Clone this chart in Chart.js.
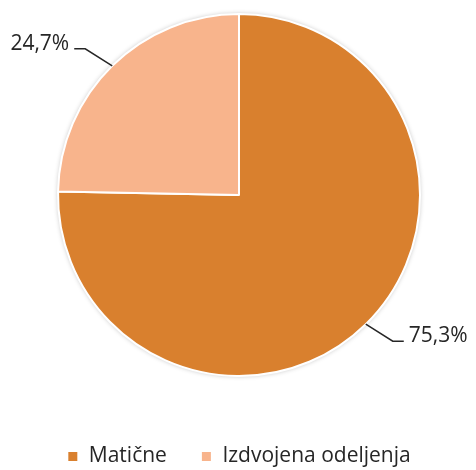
<!DOCTYPE html>
<html>
<head>
<meta charset="utf-8">
<script src="https://cdn.jsdelivr.net/npm/chart.js@4/dist/chart.umd.min.js"></script>
<style>
  html, body { margin: 0; padding: 0; background: #fff; }
  #wrap { width: 476px; height: 470px; }
</style>
</head>
<body>
<div id="wrap"><canvas id="Pita"></canvas></div>
<script>
const categories = ['Matične', 'Izdvojena odeljenja'];
const shares = [75.3, 24.7];
const sliceColors = ['#D9802E', '#F8B48C'];

// white disc with soft shadow under the slices
const pieShadow = {
    id: 'pieShadow',
    beforeDatasetsDraw(chart) {
        const arc = chart.getDatasetMeta(0).data[0];
        if (!arc) return;
        const ctx = chart.ctx;
        ctx.save();
        ctx.shadowColor = 'rgba(0,0,0,0.28)';
        ctx.shadowBlur = 5;
        ctx.fillStyle = '#fff';
        ctx.beginPath();
        ctx.arc(arc.x, arc.y, arc.outerRadius, 0, Math.PI * 2);
        ctx.fill();
        ctx.restore();
    }
};

// percentage labels with leader lines
const leaderLabels = {
    id: 'leaderLabels',
    afterDatasetsDraw(chart) {
        const ctx = chart.ctx;
        const data = chart.data.datasets[0].data;
        const total = data.reduce((a, b) => a + b, 0);
        chart.getDatasetMeta(0).data.forEach((arc, i) => {
            const mid = (arc.startAngle + arc.endAngle) / 2;
            const dx = Math.cos(mid), dy = Math.sin(mid);
            const sx = dx < 0 ? -1 : 1, sy = dy < 0 ? -1 : 1;
            const ex = arc.x + dx * arc.outerRadius;
            const ey = arc.y + dy * arc.outerRadius;
            const kx = ex + sx * 27, ky = ey + sy * 17;
            const lx = kx + sx * 11;
            ctx.save();
            ctx.strokeStyle = '#262626';
            ctx.lineWidth = 1.5;
            ctx.beginPath();
            ctx.moveTo(ex, ey);
            ctx.lineTo(kx, ky);
            ctx.lineTo(lx, ky);
            ctx.stroke();
            const txt = (data[i] / total * 100).toFixed(1).replace('.', ',') + '%';
            ctx.font = '21px "Open Sans"';
            ctx.fillStyle = '#262626';
            ctx.textAlign = sx < 0 ? 'right' : 'left';
            ctx.textBaseline = 'alphabetic';
            ctx.fillText(txt, lx + sx * 5, ky + 1);
            ctx.restore();
        });
    }
};

const ptx = document.getElementById('Pita').getContext('2d');
const Pita = new Chart(ptx, {
    type: 'pie',
    data: {
        labels: categories,
        datasets: [{
            data: shares,
            backgroundColor: sliceColors,
            borderColor: '#ffffff',
            borderWidth: 2
        }]
    },
    options: {
        responsive: true,
        maintainAspectRatio: false,
        animation: false,
        layout: {
            padding: { top: 13, left: 2, right: 0, bottom: -7 }
        },
        plugins: {
            tooltip: { enabled: false },
            legend: {
                position: 'bottom',
                title: {
                    display: true,
                    text: '',
                    font: { size: 10, lineHeight: 1 },
                    padding: { top: 25, bottom: 0 }
                },
                labels: {
                    boxWidth: 11,
                    boxHeight: 11,
                    padding: 34,
                    color: '#262626',
                    font: { family: 'Open Sans', size: 21 }
                }
            }
        }
    },
    plugins: [pieShadow, leaderLabels]
});
</script>
</body>
</html>
